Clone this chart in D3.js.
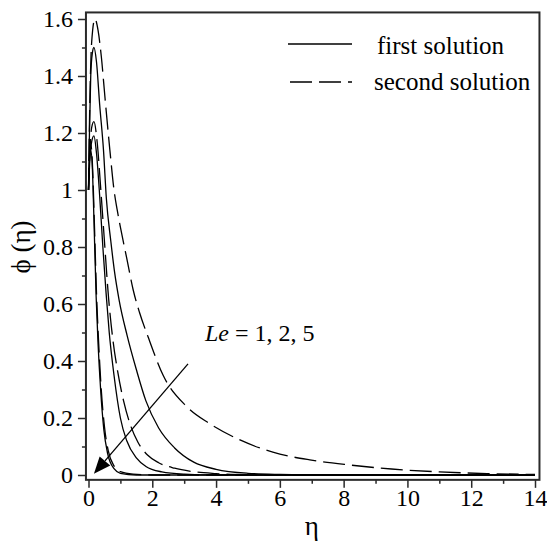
<!DOCTYPE html>
<html><head><meta charset="utf-8">
<script src="https://cdn.jsdelivr.net/npm/d3@7"></script>
<style>body{margin:0;background:#fff}svg{display:block}</style>
</head><body>
<script>
// ---- data ----
const xTickValues = [0,2,4,6,8,10,12,14];
const xMinorTicks = [1,3,5,7,9,11,13];
const yTickValues = [0,0.2,0.4,0.6,0.8,1,1.2,1.4,1.6];
const yTickLabels = ["0","0.2","0.4","0.6","0.8","1","1.2","1.4","1.6"];
const yMinorTicks = [0.1,0.3,0.5,0.7,0.9,1.1,1.3,1.5];

// first solution (solid), Le = 1, 2, 5
const firstLe1 = [[0,1],[0.03,1.2],[0.07,1.4],[0.12,1.48],[0.17,1.5],[0.25,1.45],[0.35,1.3],[0.47,1.14],[0.56,0.97],[0.7,0.82],[0.82,0.71],[0.96,0.614],[1.21,0.49],[1.5,0.37],[1.8,0.26],[2.2,0.165],[2.7,0.095],[3.3,0.045],[4,0.02],[5,0.006],[6,0.002],[7.5,0],[14,0]];
const firstLe2 = [[0,1],[0.05,1.12],[0.1,1.17],[0.17,1.19],[0.25,1.13],[0.35,0.98],[0.45,0.8],[0.55,0.64],[0.65,0.5],[0.8,0.35],[1.0,0.2],[1.2,0.12],[1.5,0.06],[1.8,0.03],[2.3,0.011],[3,0.003],[4,0],[14,0]];
const firstLe5 = [[0,1],[0.03,1.1],[0.07,1.14],[0.12,1.08],[0.17,0.9],[0.24,0.625],[0.3,0.46],[0.38,0.3],[0.48,0.16],[0.6,0.075],[0.8,0.022],[1.0,0.006],[1.5,0],[14,0]];
// second solution (dashed), Le = 1, 2, 5
const secondLe1 = [[0,1],[0.04,1.3],[0.1,1.52],[0.2,1.6],[0.3,1.56],[0.4,1.47],[0.52,1.32],[0.67,1.14],[0.8,1.0],[0.9,0.93],[1.0,0.87],[1.2,0.76],[1.4,0.65],[1.6,0.57],[1.87,0.484],[2.34,0.35],[3.09,0.239],[3.8,0.18],[4.75,0.123],[5.78,0.08],[6.94,0.053],[8.2,0.035],[9.5,0.021],[11,0.011],[12.5,0.005],[14,0.002]];
const secondLe2 = [[0,1],[0.05,1.15],[0.1,1.22],[0.17,1.24],[0.27,1.17],[0.38,1.01],[0.5,0.82],[0.63,0.62],[0.77,0.47],[0.92,0.36],[1.1,0.26],[1.3,0.18],[1.55,0.115],[1.85,0.07],[2.2,0.043],[2.7,0.024],[3.2,0.013],[4,0.005],[5,0.001],[6,0],[14,0]];
const secondLe5 = [[0,1],[0.03,1.12],[0.07,1.16],[0.12,1.1],[0.18,0.9],[0.25,0.64],[0.32,0.46],[0.4,0.3],[0.5,0.17],[0.62,0.085],[0.8,0.032],[1.0,0.012],[1.4,0.003],[2,0],[14,0]];

const arrowFrom = [3.12, 0.39];
const arrowTo = [0.17, 0.004];
const annotation = "= 1, 2, 5";
const legendLabels = ["first solution","second solution"];

// ---- drawing ----
const FONT = "Liberation Serif";
const W = 547, H = 544;
const svg = d3.select("body").append("svg").attr("width",W).attr("height",H);
const x = d3.scaleLinear().domain([0,14]).range([88.5,535]);
const y = d3.scaleLinear().domain([0,1.6]).range([475,19]);
const fx0 = x(-0.08), fx1 = x(14.14), fy0 = y(-0.017), fy1 = y(1.623);
const DASH = "22,7";

// curves
const line = d3.line().x(d=>x(d[0])).y(d=>y(d[1])).curve(d3.curveMonotoneX);
const g = svg.append("g");
[firstLe1, firstLe2, firstLe5].forEach(s=>{
  g.append("path").attr("d",line(s)).attr("fill","none").attr("stroke","#000").attr("stroke-width",1.3);
});
[secondLe1, secondLe2, secondLe5].forEach(s=>{
  g.append("path").attr("d",line(s)).attr("fill","none").attr("stroke","#000").attr("stroke-width",1.3).attr("stroke-dasharray",DASH);
});

// frame
svg.append("rect").attr("x",fx0).attr("y",fy1).attr("width",fx1-fx0).attr("height",fy0-fy1)
  .attr("fill","none").attr("stroke","#2a2a2a").attr("stroke-width",2);

// x axis
const xAxis = svg.append("g").attr("transform",`translate(0,${fy0})`)
  .call(d3.axisBottom(x).tickValues(xTickValues).tickSize(8).tickPadding(1).tickFormat(d3.format("d")));
xAxis.attr("font-family",FONT).attr("font-size",24);
xAxis.select(".domain").remove();
xAxis.selectAll("line").attr("stroke","#2a2a2a").attr("stroke-width",1.5);
xAxis.selectAll("text").style("font-size","24px").style("font-family",FONT).attr("fill","#000");
const xMinor = svg.append("g").attr("transform",`translate(0,${fy0})`)
  .call(d3.axisBottom(x).tickValues(xMinorTicks).tickSize(4).tickFormat(""));
xMinor.select(".domain").remove();
xMinor.selectAll("line").attr("stroke","#2a2a2a").attr("stroke-width",1.5);

// y axis
const yAxis = svg.append("g").attr("transform",`translate(${fx0},0)`)
  .call(d3.axisLeft(y).tickValues(yTickValues).tickSize(8).tickPadding(5).tickFormat((d,i)=>yTickLabels[i]));
yAxis.attr("font-family",FONT).attr("font-size",24);
yAxis.select(".domain").remove();
yAxis.selectAll("line").attr("stroke","#2a2a2a").attr("stroke-width",1.5);
yAxis.selectAll("text").style("font-size","24px").style("font-family",FONT).attr("fill","#000");
const yMinor = svg.append("g").attr("transform",`translate(${fx0},0)`)
  .call(d3.axisLeft(y).tickValues(yMinorTicks).tickSize(4).tickFormat(""));
yMinor.select(".domain").remove();
yMinor.selectAll("line").attr("stroke","#2a2a2a").attr("stroke-width",1.5);

// axis titles
svg.append("text").attr("x",x(7)).attr("y",535).attr("text-anchor","middle").style("font-size","27px").style("font-family",FONT).text("η");
svg.append("text").attr("transform",`translate(30,${y(0.8)}) rotate(-90)`).attr("text-anchor","middle").style("font-size","27px").style("font-family",FONT).text("ϕ (η)");

// legend
const leg = svg.append("g");
leg.append("line").attr("x1",288).attr("x2",352).attr("y1",44).attr("y2",44).attr("stroke","#000").attr("stroke-width",1.3);
leg.append("line").attr("x1",290).attr("x2",352).attr("y1",82).attr("y2",82).attr("stroke","#000").attr("stroke-width",1.3).attr("stroke-dasharray",DASH);
leg.append("text").attr("x",377).attr("y",54).style("font-size","25px").style("font-family",FONT).text(legendLabels[0]);
leg.append("text").attr("x",374).attr("y",90).style("font-size","25px").style("font-family",FONT).text(legendLabels[1]);

// annotation
const ann = svg.append("text").attr("x",205).attr("y",341).style("font-size","24px").style("font-family",FONT);
ann.append("tspan").attr("font-style","italic").text("Le");
ann.append("tspan").text(" " + annotation);

// arrow
const ax1 = x(arrowFrom[0]), ay1 = y(arrowFrom[1]), ax2 = x(arrowTo[0]), ay2 = y(arrowTo[1]);
const ang = Math.atan2(ay2-ay1, ax2-ax1);
const hl = 17, hw = 7;
const bx = ax2 - hl*Math.cos(ang), by = ay2 - hl*Math.sin(ang);
svg.append("line").attr("x1",ax1).attr("y1",ay1).attr("x2",bx).attr("y2",by).attr("stroke","#000").attr("stroke-width",1.3);
svg.append("path").attr("d",`M${ax2},${ay2}L${bx - hw*Math.sin(ang)},${by + hw*Math.cos(ang)}L${bx + hw*Math.sin(ang)},${by - hw*Math.cos(ang)}Z`).attr("fill","#000");
</script>
</body></html>
